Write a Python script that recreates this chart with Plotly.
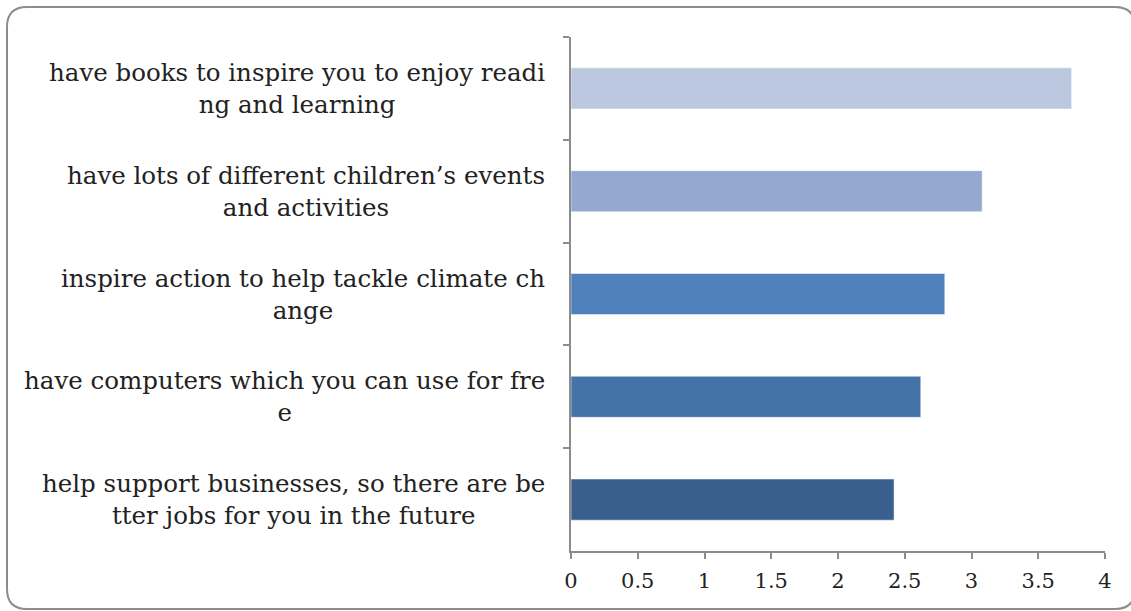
import plotly.graph_objects as go

categories = [
    "have books to inspire you to enjoy readi<br>ng and learning",
    "have lots of different children’s events<br>and activities",
    "inspire action to help tackle climate ch<br>ange",
    "have computers which you can use for fre<br>e",
    "help support businesses, so there are be<br>tter jobs for you in the future",
]
values = [3.75, 3.08, 2.80, 2.62, 2.42]
colors = ["#BBC8E0", "#95A9D0", "#4F81BD", "#4573A8", "#3A5F8E"]
x_ticks = [0, 0.5, 1, 1.5, 2, 2.5, 3, 3.5, 4]
x_tick_labels = ["0", "0.5", "1", "1.5", "2", "2.5", "3", "3.5", "4"]

W, H = 1131, 611
L, R, T, B = 571, 26, 37, 60
pw, ph = W - L - R, H - T - B

FONT = "DejaVu Serif"

fig = go.Figure()
fig.add_trace(go.Bar(
    x=values, y=categories, orientation="h", width=0.4,
    marker=dict(color=colors, line=dict(color="rgba(255,255,255,0.5)", width=1)),
    showlegend=False, hoverinfo="x",
))

annotations = []
for c in categories:
    annotations.append(dict(
        x=-24 / pw, xref="paper", y=c, yref="y", text=c, showarrow=False,
        xanchor="right", yanchor="middle", align="center",
        font=dict(family=FONT, size=24.5, color="#222222"),
    ))

def px(xp):
    return (xp - L) / pw

def py(yp):
    return (H - B - yp) / ph

# rounded frame
x0, x1, y0, y1, r = 7, 1135, 7, 609, 20
path = (
    f"M {px(x0 + r)},{py(y0)} L {px(x1 - r)},{py(y0)} "
    f"Q {px(x1)},{py(y0)} {px(x1)},{py(y0 + r)} "
    f"L {px(x1)},{py(y1 - r)} Q {px(x1)},{py(y1)} {px(x1 - r)},{py(y1)} "
    f"L {px(x0 + r)},{py(y1)} Q {px(x0)},{py(y1)} {px(x0)},{py(y1 - r)} "
    f"L {px(x0)},{py(y0 + r)} Q {px(x0)},{py(y0)} {px(x0 + r)},{py(y0)} Z"
)

fig.update_layout(
    width=W, height=H,
    margin=dict(l=L, r=R, t=T, b=B, pad=0),
    paper_bgcolor="white", plot_bgcolor="white",
    annotations=annotations,
    shapes=[dict(type="path", path=path, xref="paper", yref="paper",
                 line=dict(color="#8C8C8C", width=2), fillcolor="rgba(0,0,0,0)",
                 layer="below")],
    xaxis=dict(
        range=[0, 4], tickvals=x_ticks, ticktext=x_tick_labels,
        showgrid=False, zeroline=False, showline=True, linecolor="#8C8C8C", linewidth=2,
        ticks="outside", ticklen=6, tickwidth=2, tickcolor="#8C8C8C",
        tickfont=dict(family=FONT, size=21, color="#222222"),
        ticklabelstandoff=4,
        fixedrange=True,
    ),
    yaxis=dict(
        categoryorder="array", categoryarray=categories,
        range=[4.5, -0.5], showticklabels=False,
        showgrid=False, zeroline=False, showline=True, linecolor="#8C8C8C", linewidth=2,
        ticks="outside", tickson="boundaries", ticklen=6, tickwidth=2, tickcolor="#8C8C8C",
        fixedrange=True,
    ),
    bargap=0.6,
)

fig.write_html(
    "out.html",
    config={"displayModeBar": False},
    post_script="document.body.style.margin='0';document.body.style.overflow='hidden';",
)
